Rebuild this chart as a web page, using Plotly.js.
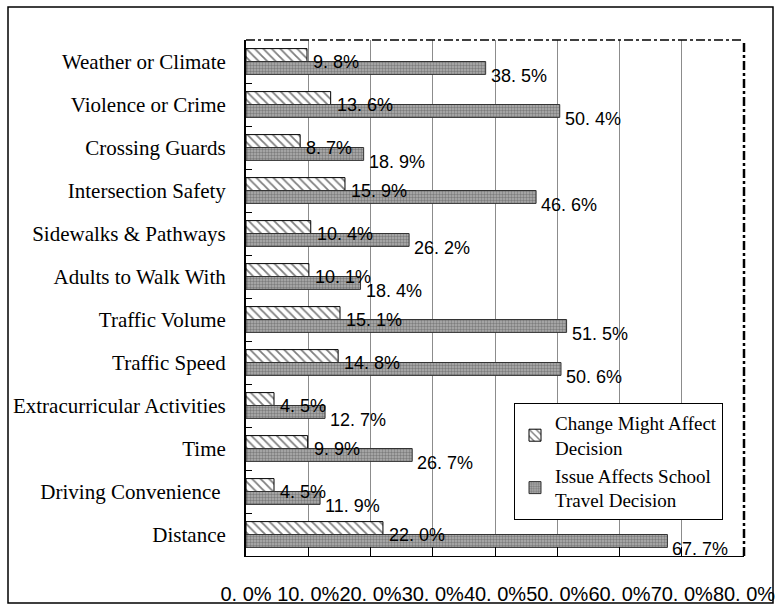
<!DOCTYPE html>
<html>
<head>
<meta charset="utf-8">
<script src="https://cdn.plot.ly/plotly-3.0.1.min.js"></script>
<style>
html,body{margin:0;padding:0;background:#fff;}
#chart{width:777px;height:605px;}
</style>
</head>
<body>
<div id="chart"></div>
<script>
const categories = ["Weather or Climate","Violence or Crime","Crossing Guards","Intersection Safety","Sidewalks & Pathways","Adults to Walk With","Traffic Volume","Traffic Speed","Extracurricular Activities","Time","Driving Convenience ","Distance"];
const changeMightAffect = [9.8,13.6,8.7,15.9,10.4,10.1,15.1,14.8,4.5,9.9,4.5,22.0];
const issueAffects = [38.5,50.4,18.9,46.6,26.2,18.4,51.5,50.6,12.7,26.7,11.9,67.7];
const seriesNames = ["Change Might Affect<br>Decision","Issue Affects School<br>Travel Decision"];
const tickVals = [0,10,20,30,40,50,60,70,80];
const tickText = ["0. 0%","10. 0%","20. 0%","30. 0%","40. 0%","50. 0%","60. 0%","70. 0%","80. 0%"];

const fmt = v => v.toFixed(1).replace('.', '. ') + '%';
const serif = "Liberation Serif, Times New Roman, serif";
const sans = "Liberation Sans, Arial, sans-serif";

const traces = [
  {
    type:'bar', orientation:'h', name: seriesNames[0],
    y: categories, x: changeMightAffect,
    marker:{color:'#ffffff', line:{color:'#000', width:1},
      pattern:{shape:'\\', size:6, solidity:0.3, fgcolor:'#000', bgcolor:'#fff', fillmode:'overlay'}},
    hoverinfo:'skip'
  },
  {
    type:'bar', orientation:'h', name: seriesNames[1],
    y: categories, x: issueAffects,
    marker:{color:'#a0a0a0', line:{color:'#333', width:1},
      pattern:{shape:'.', size:3, solidity:0.5, fgcolor:'#4a4a4a', bgcolor:'#b0b0b0', fillmode:'overlay'}},
    hoverinfo:'skip'
  }
];

const annotations = [];
categories.forEach((c,i)=>{
  annotations.push({x: changeMightAffect[i], y: i, xref:'x', yref:'y', text: fmt(changeMightAffect[i]),
    showarrow:false, xanchor:'left', yanchor:'middle', xshift:4, yshift:0,
    font:{family:sans, size:18, color:'#000'}});
  annotations.push({x: issueAffects[i], y: i, xref:'x', yref:'y', text: fmt(issueAffects[i]),
    showarrow:false, xanchor:'left', yanchor:'middle', xshift:3, yshift:-14,
    font:{family:sans, size:18, color:'#000'}});
});

const W = 498, H = 516, L = 246, T = 40;
const layout = {
  width:777, height:605,
  margin:{l:L, r:777-L-W, t:T, b:605-T-H, pad:0, autoexpand:false},
  paper_bgcolor:'#fff', plot_bgcolor:'#fff',
  barmode:'group', bargap:0.4, bargroupgap:0,
  showlegend:true,
  legend:{x:(514-L)/W, y:(556-403)/H, xanchor:'left', yanchor:'top',
    bgcolor:'#fff', bordercolor:'#000', borderwidth:1,
    font:{family:serif, size:19, color:'#000'}, traceorder:'normal', tracegroupgap:0},
  xaxis:{range:[0,80], autorange:false, tickvals:tickVals, ticktext:tickText, tickangle:0, showgrid:true, gridcolor:'#8c8c8c', gridwidth:1,
    zeroline:false, showline:true, linecolor:'#000', linewidth:1, ticks:'inside', ticklen:9, tickcolor:'#000',
    ticklabelstandoff:20, tickfont:{family:sans, size:20, color:'#000'}, fixedrange:true, automargin:false},
  yaxis:{type:'category', range:[11.5,-0.5], autorange:false, showgrid:false, zeroline:false, showline:true, linecolor:'#000', linewidth:2,
    ticks:'inside', tickson:'boundaries', ticklen:6, tickcolor:'#000', ticklabelstandoff:14,
    tickfont:{family:serif, size:21, color:'#000'}, fixedrange:true, automargin:false},
  annotations: annotations,
  shapes:[
    {type:'line', xref:'paper', yref:'paper', x0:0, x1:1, y0:1, y1:1, line:{color:'#000', width:1.5, dash:'dashdot'}},
    {type:'line', xref:'paper', yref:'paper', x0:1, x1:1, y0:0, y1:1, line:{color:'#000', width:2.5, dash:'dashdot'}},
    {type:'rect', xref:'paper', yref:'paper', x0:(8-L)/W, x1:(773-L)/W, y0:(T+H-603)/H, y1:(T+H-7)/H, line:{color:'#000', width:1.5}, fillcolor:'rgba(0,0,0,0)', layer:'below'}
  ]
};

Plotly.newPlot('chart', traces, layout, {displayModeBar:false, staticPlot:true});
</script>
</body>
</html>
